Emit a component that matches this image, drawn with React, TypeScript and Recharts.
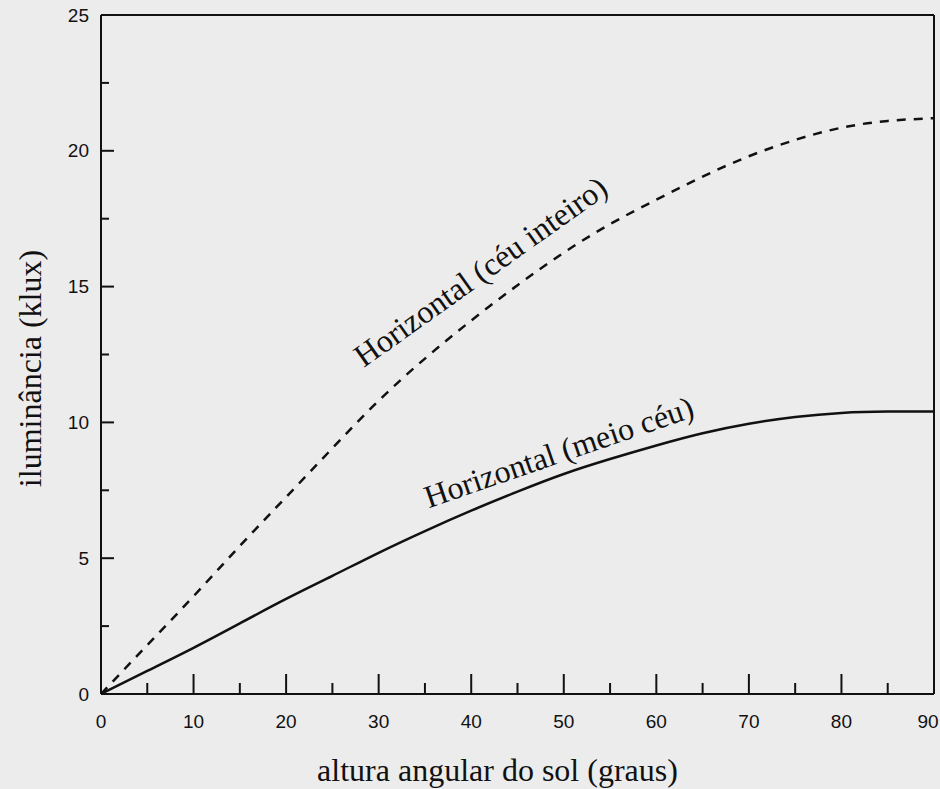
import React from 'react';
import { LineChart, Line, XAxis, YAxis, ReferenceLine, ReferenceDot } from 'recharts';

// solar altitude (degrees)
const angles = [0, 5, 10, 15, 20, 25, 30, 35, 40, 45, 50, 55, 60, 65, 70, 75, 80, 85, 90];
// horizontal illuminance, whole sky (klux)
const fullSky = [0, 1.8, 3.6, 5.45, 7.25, 9.05, 10.8, 12.35, 13.75, 15.05, 16.25, 17.3, 18.2, 19.05, 19.8, 20.4, 20.85, 21.1, 21.2];
// horizontal illuminance, half sky (klux)
const halfSky = [0, 0.85, 1.7, 2.6, 3.5, 4.35, 5.2, 6.0, 6.75, 7.45, 8.1, 8.65, 9.15, 9.6, 9.95, 10.2, 10.35, 10.4, 10.4];

const xTicks = [0, 5, 10, 15, 20, 25, 30, 35, 40, 45, 50, 55, 60, 65, 70, 75, 80, 85, 90];
const yTicks = [0, 2.5, 5, 7.5, 10, 12.5, 15, 17.5, 20, 22.5, 25];

const data = angles.map((a, i) => ({ angle: a, full: fullSky[i], half: halfSky[i] }));

const SERIF = '"Liberation Serif", "Times New Roman", serif';
const SANS = '"Liberation Sans", Arial, sans-serif';

const XTick = (props: any) => {
  const { x, y, payload } = props;
  const v = payload.value;
  const major = v % 10 === 0;
  return (
    <g>
      {v !== 0 && v !== 90 && (
        <line x1={x} y1={y} x2={x} y2={y - (major ? 20 : 11)} stroke="#111" strokeWidth={2} />
      )}
      {major && (
        <text
          x={v === 90 ? x - 6 : x}
          y={y + 27}
          textAnchor="middle"
          dominantBaseline="central"
          fontFamily={SANS}
          fontSize={19}
          fill="#111"
        >
          {v}
        </text>
      )}
    </g>
  );
};

const YTick = (props: any) => {
  const { x, y, payload } = props;
  const v = payload.value;
  const major = v % 5 === 0;
  return (
    <g>
      {v !== 0 && v !== 25 && (
        <line x1={x} y1={y} x2={x + (major ? 13 : 8)} y2={y} stroke="#111" strokeWidth={2} />
      )}
      {major && (
        <text x={x - 12} y={y} textAnchor="end" dominantBaseline="central" fontFamily={SANS} fontSize={19} fill="#111">
          {v}
        </text>
      )}
    </g>
  );
};

const curveLabel = (text: string, angle: number) => (props: any) => {
  const { viewBox } = props;
  const cx = viewBox.x + viewBox.width / 2;
  const cy = viewBox.y + viewBox.height / 2;
  return (
    <text
      x={cx}
      y={cy}
      transform={`rotate(${angle} ${cx} ${cy})`}
      fontFamily={SERIF}
      fontSize={32}
      fill="#111"
    >
      {text}
    </text>
  );
};

export default function App() {
  return (
    <div style={{ position: 'absolute', left: 0, top: 0, width: 940, height: 789, background: '#ececec' }}>
      <LineChart width={940} height={789} data={data} margin={{ top: 15, right: 6, left: 0, bottom: 0 }}>
        <XAxis
          dataKey="angle"
          type="number"
          domain={[0, 90]}
          ticks={xTicks}
          interval={0}
          height={95}
          tickSize={0}
          tickMargin={0}
          tickLine={false}
          tick={<XTick />}
          axisLine={{ stroke: '#111', strokeWidth: 2 }}
          label={{
            content: ({ viewBox }: any) => (
              <text
                x={viewBox.x + viewBox.width / 2 - 20}
                y={viewBox.y + 87}
                textAnchor="middle"
                fontFamily={SERIF}
                fontSize={32}
                fill="#111"
              >
                altura angular do sol (graus)
              </text>
            ),
          }}
        />
        <YAxis
          type="number"
          domain={[0, 25]}
          ticks={yTicks}
          interval={0}
          width={101}
          tickSize={0}
          tickMargin={0}
          tickLine={false}
          tick={<YTick />}
          axisLine={{ stroke: '#111', strokeWidth: 2 }}
          label={{
            content: ({ viewBox }: any) => {
              const cx = viewBox.x + 30;
              const cy = viewBox.y + viewBox.height / 2 + 14;
              return (
                <text
                  x={cx}
                  y={cy}
                  transform={`rotate(-90 ${cx} ${cy})`}
                  textAnchor="middle"
                  dominantBaseline="central"
                  fontFamily={SERIF}
                  fontSize={32}
                  fill="#111"
                >
                  iluminância (klux)
                </text>
              );
            },
          }}
        />
        <ReferenceLine y={25} stroke="#111" strokeWidth={2} />
        <ReferenceLine x={90} stroke="#111" strokeWidth={2} />
        <Line
          type="natural"
          dataKey="full"
          stroke="#111"
          strokeWidth={2.5}
          strokeDasharray="9 8"
          dot={false}
          isAnimationActive={false}
        />
        <Line
          type="natural"
          dataKey="half"
          stroke="#111"
          strokeWidth={2.5}
          dot={false}
          isAnimationActive={false}
        />
        <ReferenceDot
          x={28.4}
          y={12.0}
          r={1}
          fill="none"
          stroke="none"
          label={{ content: curveLabel('Horizontal (céu inteiro)', -35.5) }}
        />
        <ReferenceDot
          x={35.4}
          y={6.84}
          r={1}
          fill="none"
          stroke="none"
          label={{ content: curveLabel('Horizontal (meio céu)', -19) }}
        />
      </LineChart>
    </div>
  );
}
